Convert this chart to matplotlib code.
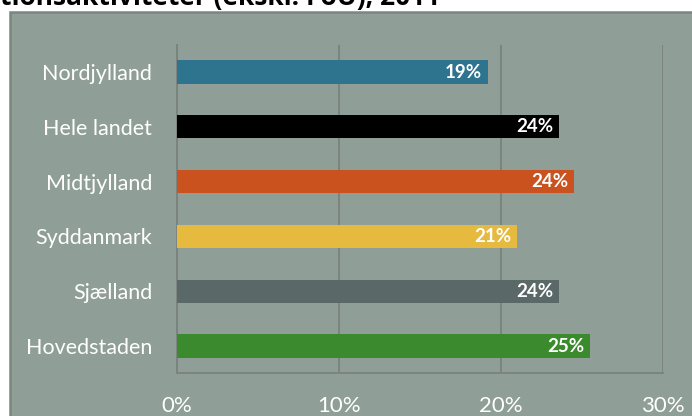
import matplotlib
matplotlib.use('Agg')
import matplotlib.pyplot as plt
import matplotlib.patches as patches

regions = ['Nordjylland', 'Hele landet', 'Midtjylland', 'Syddanmark', 'Sjælland', 'Hovedstaden']
shares = [19.2, 23.6, 24.5, 21.0, 23.6, 25.5]
labels = ['19%', '24%', '24%', '21%', '24%', '25%']
colors = ['#2e748e', '#000000', '#c9521f', '#e6ba3e', '#5a6967', '#3c8a2e']
xticks = [0, 10, 20, 30]
xtick_labels = ['0%', '10%', '20%', '30%']
title = 'tionsaktiviteter (ekskl. FoU), 2011'

plt.rcParams['font.family'] = ['Lato', 'DejaVu Sans']

fig = plt.figure(figsize=(6.92, 4.16), dpi=100)
fig.patch.set_facecolor('white')

# grey chart area box
bg = patches.Rectangle((10/692, -0.1), 1.2, 0.1 + (416-12)/416, transform=fig.transFigure,
                       facecolor='#8f9e96', edgecolor='#7b8681', linewidth=1.8, zorder=-10)
fig.patches.append(bg)

fig.text(0.0, (416-5)/416, title, fontsize=19, fontweight='bold', color='black',
         ha='left', va='baseline', family=['Open Sans', 'DejaVu Sans'])

ax = fig.add_axes([176.5/692, 42.6/416, 486.5/692, 328.8/416])
ax.set_facecolor('none')

y = list(range(len(regions)))
ax.barh(y, shares, height=0.42, color=colors, zorder=3)
for yi, v, lab in zip(y, shares, labels):
    ax.text(v - 0.35, yi, lab, ha='right', va='center', color='white',
            fontsize=13.5, fontweight='bold', zorder=4)

ax.set_xlim(0, 30)
ax.set_ylim(len(regions) - 0.5, -0.5)
ax.set_xticks(xticks)
ax.set_xticklabels(xtick_labels)
ax.set_yticks(y)
ax.set_yticklabels(regions)
ax.tick_params(axis='x', length=0, pad=16, labelsize=16, labelcolor='white')
ax.tick_params(axis='y', length=0, pad=17.5, labelsize=15.5, labelcolor='white')

ax.grid(axis='x', color='#7a827e', linewidth=1.3, zorder=1)
ax.set_axisbelow(True)
for s in ['top', 'right']:
    ax.spines[s].set_visible(False)
for s in ['left', 'bottom']:
    ax.spines[s].set_color('#7a827e')
    ax.spines[s].set_linewidth(1.3)

fig.savefig('out.png', dpi=100)
